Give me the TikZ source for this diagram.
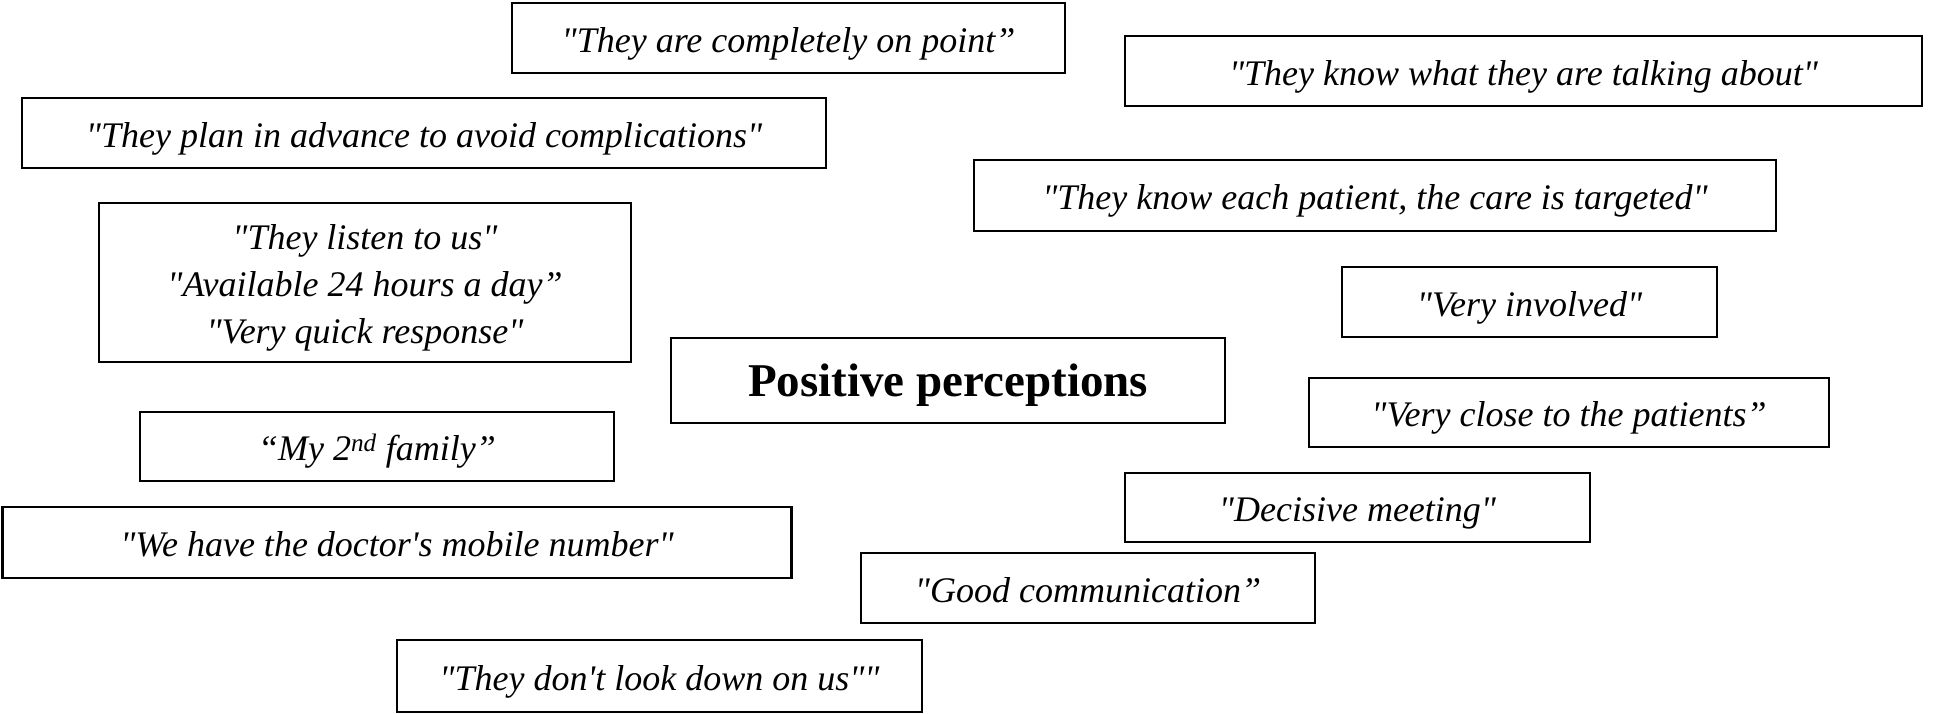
\documentclass[tikz,border=0pt]{standalone}
\usepackage{fontspec}
\newfontfamily\tnr{Liberation Serif}
\newcommand\lowtxt[1]{\raisebox{-5pt}[\height][\depth]{\begin{tabular}{@{}c@{}}#1\end{tabular}}}
\begin{document}
\begin{tikzpicture}[x=1pt,y=-1pt,
  qbox/.style={draw=black, line width=2.8pt, rectangle, inner sep=0pt, align=center,
    font=\tnr\itshape\fontsize{36}{47}\selectfont},
  mainbox/.style={draw=black, line width=2.8pt, rectangle, inner sep=0pt, align=center,
    font=\tnr\bfseries\fontsize{47}{56}\selectfont}]
\useasboundingbox (0,0) rectangle (1960,714);
\node[qbox, minimum width=553pt, minimum height=70pt] (q1) at (788.5,38) {\lowtxt{"They are completely on point”}};
\node[qbox, minimum width=797pt, minimum height=70pt] (q2) at (1523.5,71) {\lowtxt{"They know what they are talking about"}};
\node[qbox, minimum width=804pt, minimum height=70pt] (q3) at (424,133) {\lowtxt{"They plan in advance to avoid complications"}};
\node[qbox, minimum width=802pt, minimum height=71pt] (q4) at (1375,195.5) {\lowtxt{"They know each patient, the care is targeted"}};
\node[qbox, minimum width=532pt, minimum height=159pt] (q5) at (365,282.5) {\lowtxt{"They listen to us"\\"Available 24 hours a day”\\"Very quick response"}};
\node[qbox, minimum width=375pt, minimum height=70pt] (q6) at (1529.5,302) {\lowtxt{"Very involved"}};
\node[mainbox, minimum width=554pt, minimum height=85pt] (pp) at (948,380.5) {\lowtxt{Positive perceptions}};
\node[qbox, minimum width=520pt, minimum height=69pt] (q8) at (1569,412.5) {\lowtxt{"Very close to the patients”}};
\node[qbox, minimum width=474pt, minimum height=69pt] (q9) at (377,446.5) {\lowtxt{“My 2\textsuperscript{nd} family”}};
\node[qbox, minimum width=465pt, minimum height=69pt] (q10) at (1357.5,507.5) {\lowtxt{"Decisive meeting"}};
\node[qbox, minimum width=789pt, minimum height=71pt] (q11) at (397,542.5) {\lowtxt{"We have the doctor's mobile number"}};
\node[qbox, minimum width=454pt, minimum height=70pt] (q12) at (1088,588) {\lowtxt{"Good communication”}};
\node[qbox, minimum width=525pt, minimum height=72pt] (q13) at (659.5,676) {\lowtxt{"They don't look down on us""}};
\end{tikzpicture}
\end{document}
